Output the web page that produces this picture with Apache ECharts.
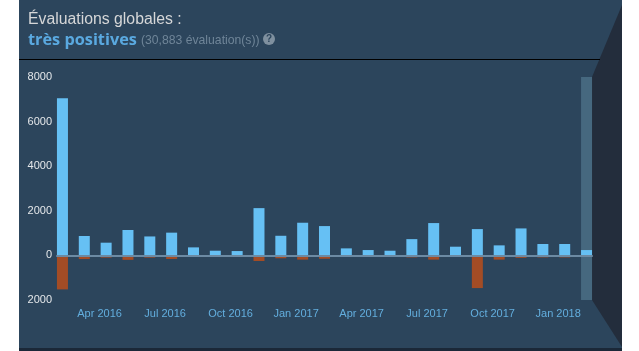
<!DOCTYPE html>
<html lang="fr">
<head>
    <meta charset="utf-8"/>
    <title>Évaluations globales</title>
    <script src="https://cdn.jsdelivr.net/npm/echarts@6/dist/echarts.min.js"></script>
</head>
<style>
    html, body { margin: 0; padding: 0; background: #fff; }
</style>
<body>
<div id="main" style="width: 639px;height: 351px;"></div>
<script>
    // one value per month, Feb 2016 to Feb 2018
    var positive = [7050, 870, 570, 1140, 850, 1020, 360, 210, 195, 2120, 880, 1465, 1315,
        315, 240, 210, 730, 1450, 390, 1180, 450, 1210, 510, 510, 240];
    var negative = [-1525, -165, -100, -200, -100, -160, -10, -10, -10, -250, -130, -190, -150,
        -40, -20, -20, -90, -190, -50, -1465, -190, -110, -90, -90, -20];
    // selected range, only the last month
    var bandTop = [[24, 8000]];
    var bandBottom = [[24, -2000]];
    var tickLabels = ['Apr 2016', 'Jul 2016', 'Oct 2016', 'Jan 2017', 'Apr 2017', 'Jul 2017', 'Oct 2017', 'Jan 2018'];
    var tickPositions = [1.7, 4.7, 7.7, 10.7, 13.7, 16.7, 19.7, 22.7];

    function indexed(values) {
        return values.map(function (v, i) { return [i, v]; });
    }

    var myChart = echarts.init(document.getElementById('main'), null, {renderer: 'canvas'});
    var sans = '"Liberation Sans", Arial, sans-serif';

    var option = {
        animation: false,
        backgroundColor: 'transparent',
        grid: {left: 57, right: 47, top: 77, bottom: 51, outerBoundsMode: 'none'},
        xAxis: {
            type: 'value',
            min: -0.25,
            max: 24.25,
            z: 5,
            splitLine: {show: false},
            axisTick: {show: false},
            axisLine: {show: true, onZero: true, lineStyle: {color: '#6c8aa3', width: 2}},
            axisLabel: {
                customValues: tickPositions,
                margin: 8,
                color: '#63aede',
                fontFamily: sans,
                fontSize: 11,
                formatter: function (value) {
                    return tickLabels[tickPositions.indexOf(value)];
                }
            }
        },
        yAxis: {
            type: 'value',
            min: -2000,
            max: 8000,
            interval: 2000,
            splitLine: {show: false},
            axisTick: {show: false},
            axisLine: {show: false},
            axisLabel: {
                margin: 5,
                padding: [2, 0, 0, 0],
                color: '#e4e7ea',
                fontFamily: sans,
                fontSize: 11,
                formatter: function (value) {
                    return Math.abs(value);
                }
            }
        },
        series: [
            {name: 'band', type: 'bar', data: bandTop, barWidth: 11, barGap: '-100%', z: 1, itemStyle: {color: '#46687f'}},
            {name: 'band2', type: 'bar', data: bandBottom, barWidth: 11, barGap: '-100%', z: 1, itemStyle: {color: '#46687f'}},
            {name: 'positive', type: 'bar', data: indexed(positive), barWidth: 11, barGap: '-100%', z: 2, itemStyle: {color: '#66c0f4'}},
            {name: 'negative', type: 'bar', data: indexed(negative), barWidth: 11, barGap: '-100%', z: 2, itemStyle: {color: '#a34c25'}}
        ],
        graphic: [
            // panel
            {type: 'rect', z: -10, silent: true, shape: {x: 19, y: 0, width: 603, height: 348}, style: {fill: '#2c455c'}},
            {type: 'rect', z: -10, silent: true, shape: {x: 19, y: 348, width: 603, height: 3}, style: {fill: '#1b2838'}},
            {type: 'polygon', z: -9, silent: true, shape: {points: [[622, 5], [592, 77], [592, 300], [622, 347]]}, style: {fill: '#232d3c'}},
            {type: 'rect', z: -8, silent: true, shape: {x: 19, y: 59, width: 581, height: 1}, style: {fill: '#000000'}},
            // heading
            {type: 'text', silent: true, style: {x: 28, y: 20, text: 'Évaluations globales :', fill: '#d6d7d8', font: '15.8px ' + sans, textVerticalAlign: 'middle'}},
            {type: 'text', silent: true, style: {x: 28, y: 40, text: 'très positives', fill: '#5aa9e0', font: 'bold 16.3px "Open Sans", sans-serif', textVerticalAlign: 'middle'}},
            {type: 'text', silent: true, style: {x: 141, y: 41, text: '(30,883 évaluation(s))', fill: '#6f8598', font: '12.2px ' + sans, textVerticalAlign: 'middle'}},
            {type: 'circle', silent: true, shape: {cx: 269, cy: 39, r: 6}, style: {fill: '#7f909f'}},
            {type: 'text', silent: true, style: {x: 269, y: 39, text: '?', fill: '#2c455c', font: 'bold 10px ' + sans, textAlign: 'center', textVerticalAlign: 'middle'}}
        ]
    };
    myChart.setOption(option);
</script>
</body>
</html>
